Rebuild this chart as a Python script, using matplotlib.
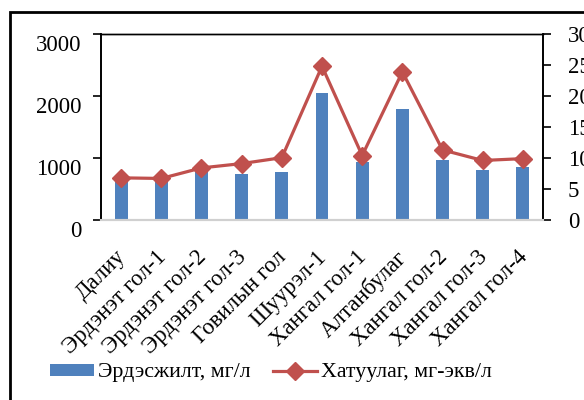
import numpy as np
import matplotlib
matplotlib.use("Agg")
from matplotlib import pyplot as plt
from matplotlib.patches import Rectangle
from matplotlib.transforms import ScaledTranslation

plt.rcParams['font.family'] = ['Liberation Serif', 'DejaVu Serif']

stations = ["Далиу", "Эрдэнэт гол-1", "Эрдэнэт гол-2", "Эрдэнэт гол-3", "Говилын гол",
            "Шуурэл-1", "Хангал гол-1", "Алтанбулаг", "Хангал гол-2", "Хангал гол-3", "Хангал гол-4"]
mineral = [660, 650, 770, 750, 775, 2050, 930, 1795, 970, 810, 850]     # Эрдэсжилт, мг/л
hardness = [6.8, 6.7, 8.4, 9.1, 10.05, 24.8, 10.4, 23.9, 11.3, 9.6, 9.9]  # Хатуулаг, мг-экв/л
left_ticks = [0, 1000, 2000, 3000]
right_ticks = [0, 5, 10, 15, 20, 25, 30]

blue = '#4F81BD'
red = '#C0504D'
fs = 16.5

fig = plt.figure(figsize=(5.84, 4.0), dpi=100)
ax = fig.add_axes([101/584, 1-220/400, 442/584, 186/400])
ax2 = ax.twinx()

x = np.arange(len(stations))
ax.bar(x, mineral, width=0.32, color=blue, zorder=2, label="Эрдэсжилт, мг/л")
ax2.plot(x, hardness, color=red, lw=2.3, marker='D', ms=9, zorder=3,
         label="Хатуулаг, мг-экв/л")

ax.set_xlim(-0.5, len(stations)-0.5)
ax.set_ylim(0, 3000)
ax2.set_ylim(0, 30)
ax.set_yticks(left_ticks)
ax2.set_yticks(right_ticks)
ax.set_xticks(x)
ax.set_xticklabels(stations, rotation=45, ha='right', va='top', rotation_mode='anchor', fontsize=fs)
ax.tick_params(axis='x', length=0, pad=19)
ax.tick_params(axis='y', labelsize=fs, length=6, width=1.2, pad=8)
ax2.tick_params(axis='y', labelsize=fs, length=6, width=1.2, pad=12)

# nudge labels to where the original has them
for lab in ax.get_xticklabels():
    lab.set_transform(lab.get_transform() + ScaledTranslation(-6/100, 0, fig.dpi_scale_trans))
for lab in ax.get_yticklabels():
    lab.set_transform(lab.get_transform() + ScaledTranslation(0, -9/100, fig.dpi_scale_trans))

for a in (ax, ax2):
    a.spines['bottom'].set_color('#D0D0D0')
    a.spines['bottom'].set_linewidth(1.5)
    a.spines['top'].set_linewidth(1.0)
    a.spines['left'].set_linewidth(1.2)
    a.spines['right'].set_linewidth(1.2)

h1, l1 = ax.get_legend_handles_labels()
h2, l2 = ax2.get_legend_handles_labels()
fig.legend(h1+h2, l1+l2, loc='center', bbox_to_anchor=(271/584, 1-373/400), ncol=2, frameon=False,
           fontsize=15.8, handlelength=2.0, handleheight=0.45, handletextpad=0.2, columnspacing=1.0)

# outer chart border (cropped in original)
fig.patches.append(Rectangle((10/584, -0.1), 1.2, 1.1-12/400, transform=fig.transFigure,
                             fill=False, lw=2, edgecolor='black'))

fig.savefig("out.png", dpi=100)
